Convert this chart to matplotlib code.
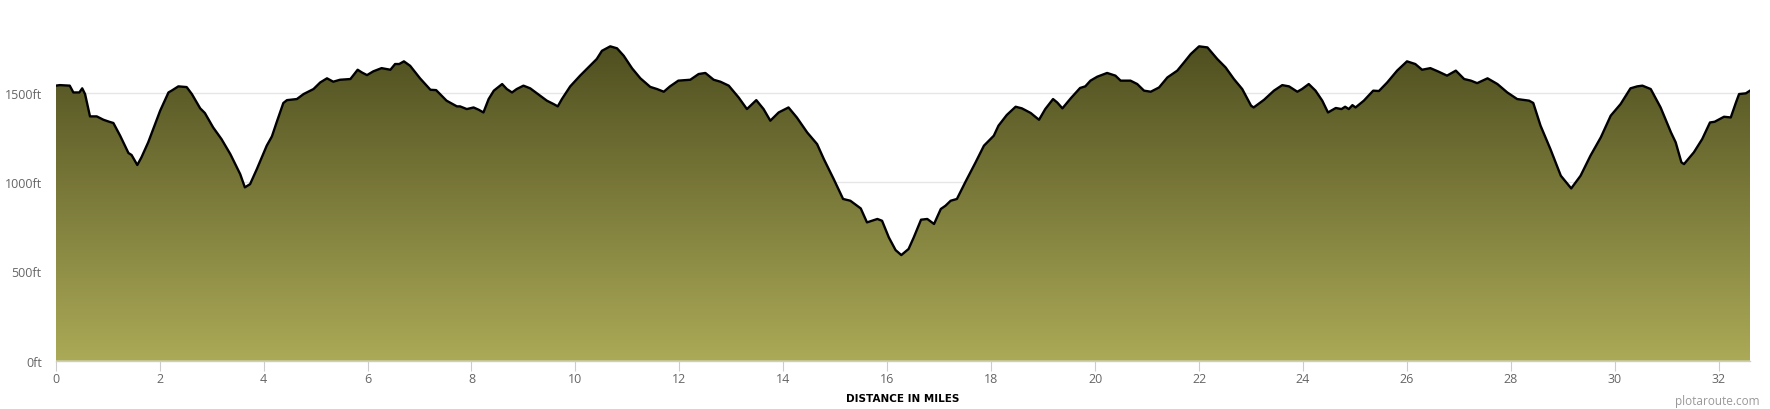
import matplotlib
matplotlib.use("Agg")
import matplotlib.pyplot as plt
import numpy as np
from matplotlib.colors import LinearSegmentedColormap
from matplotlib.ticker import FuncFormatter

# elevation profile (miles, feet)
distance_mi = [
    0.00, 0.08, 0.27, 0.34, 0.455, 0.51, 0.565, 0.66, 0.79, 0.92, 1.03, 1.11,
    1.24, 1.40, 1.46, 1.57, 1.65, 1.78, 2.01, 2.17, 2.23, 2.36, 2.52, 2.62,
    2.78, 2.87, 3.03, 3.19, 3.36, 3.55, 3.64, 3.74, 3.87, 4.06, 4.16, 4.25,
    4.38, 4.45, 4.64, 4.77, 4.96, 5.09, 5.22, 5.34, 5.47, 5.67, 5.81, 5.89,
    5.99, 6.11, 6.27, 6.44, 6.53, 6.61, 6.70, 6.82, 7.01, 7.21, 7.32, 7.52,
    7.72, 7.78, 7.91, 8.04, 8.14, 8.23, 8.33, 8.43, 8.59, 8.68, 8.78, 8.87,
    9.00, 9.13, 9.32, 9.45, 9.58, 9.66, 9.74, 9.90, 10.09, 10.28, 10.41, 10.51,
    10.67, 10.80, 10.93, 11.09, 11.25, 11.44, 11.57, 11.70, 11.82, 11.98, 12.21, 12.37,
    12.50, 12.66, 12.79, 12.95, 13.14, 13.30, 13.48, 13.62, 13.75, 13.91, 14.10, 14.26,
    14.46, 14.65, 14.78, 14.97, 15.15, 15.29, 15.49, 15.61, 15.81, 15.90, 16.03, 16.16,
    16.27, 16.41, 16.51, 16.65, 16.77, 16.90, 17.03, 17.12, 17.22, 17.34, 17.50, 17.70,
    17.86, 18.05, 18.14, 18.30, 18.47, 18.59, 18.76, 18.92, 19.04, 19.19, 19.27, 19.37,
    19.53, 19.71, 19.81, 19.91, 20.04, 20.23, 20.39, 20.49, 20.68, 20.81, 20.94, 21.07,
    21.23, 21.39, 21.58, 21.71, 21.84, 22.00, 22.16, 22.35, 22.51, 22.67, 22.83, 23.00,
    23.05, 23.25, 23.44, 23.60, 23.73, 23.89, 23.98, 24.11, 24.24, 24.37, 24.48, 24.63,
    24.74, 24.81, 24.88, 24.95, 25.01, 25.17, 25.35, 25.46, 25.62, 25.81, 26.00, 26.16,
    26.29, 26.45, 26.61, 26.77, 26.94, 27.10, 27.23, 27.35, 27.55, 27.74, 27.93, 28.12,
    28.35, 28.43, 28.57, 28.76, 28.86, 28.96, 29.16, 29.34, 29.53, 29.73, 29.92, 30.11,
    30.30, 30.43, 30.53, 30.69, 30.88, 31.08, 31.17, 31.28, 31.33, 31.52, 31.68, 31.83,
    31.92, 32.10, 32.23, 32.33, 32.39, 32.52, 32.60,
]
elevation_ft = [
    1539, 1542, 1539, 1501, 1501, 1524, 1492, 1367, 1367, 1348, 1337, 1330,
    1259, 1162, 1151, 1095, 1138, 1222, 1399, 1501, 1511, 1535, 1531, 1492,
    1412, 1386, 1305, 1240, 1156, 1044, 970, 988, 1072, 1203, 1255, 1333,
    1442, 1458, 1464, 1492, 1520, 1557, 1580, 1561, 1572, 1576, 1628, 1613,
    1598, 1619, 1637, 1628, 1660, 1660, 1675, 1650, 1580, 1516, 1514, 1455,
    1423, 1423, 1408, 1417, 1404, 1389, 1464, 1511, 1548, 1520, 1501, 1520,
    1539, 1524, 1483, 1455, 1436, 1423, 1464, 1535, 1595, 1650, 1688, 1734,
    1759, 1748, 1706, 1636, 1580, 1532, 1520, 1505, 1535, 1567, 1572, 1604,
    1610, 1572, 1561, 1539, 1473, 1408, 1458, 1408, 1343, 1389, 1417, 1361,
    1277, 1212, 1128, 1016, 905, 895, 852, 774, 793, 783, 690, 619,
    591, 625, 690, 789, 793, 765, 849, 867, 895, 905, 998, 1110,
    1203, 1259, 1315, 1375, 1421, 1412, 1386, 1348, 1408, 1464, 1445, 1412,
    1468, 1526, 1535, 1567, 1589, 1610, 1595, 1567, 1567, 1548, 1511, 1505,
    1529, 1585, 1623, 1669, 1716, 1759, 1753, 1688, 1641, 1576, 1520, 1427,
    1417, 1460, 1511, 1542, 1535, 1505, 1520, 1548, 1511, 1455, 1389, 1414,
    1408, 1421, 1408, 1430, 1417, 1455, 1511, 1509, 1557, 1623, 1675, 1660,
    1628, 1637, 1617, 1595, 1623, 1576, 1567, 1553, 1580, 1548, 1501, 1464,
    1455, 1442, 1315, 1184, 1110, 1035, 964, 1035, 1147, 1250, 1371, 1436,
    1524, 1535, 1539, 1520, 1417, 1277, 1222, 1110, 1100, 1166, 1240, 1333,
    1337, 1365, 1361, 1445, 1492, 1496, 1511,
]

x_ticks = list(range(0, 34, 2))
y_ticks = [0, 500, 1000, 1500]

X_MAX = 32.6
Y_MAX = 1856
TOP_COLOR = "#4a4a1d"
BOTTOM_COLOR = "#abaa57"
TICK_COLOR = "#666666"


def main():
    fig = plt.figure(figsize=(17.7, 4.1), dpi=100)
    ax = fig.add_axes([55.7 / 1770, 48.3 / 410, (1750 - 55.7) / 1770, 331.7 / 410])

    # gradient fill clipped to the area under the profile
    area = ax.fill_between(distance_mi, elevation_ft, 0, color="none", lw=0)
    cmap = LinearSegmentedColormap.from_list("olive", [BOTTOM_COLOR, TOP_COLOR])
    gradient = np.linspace(0, 1, 256).reshape(-1, 1)
    img = ax.imshow(gradient, extent=[0, X_MAX, 0, Y_MAX], origin="lower",
                    aspect="auto", cmap=cmap, zorder=1)
    img.set_clip_path(area.get_paths()[0], transform=ax.transData)

    ax.plot(distance_mi, elevation_ft, color="black", lw=1.7, zorder=2,
            solid_joinstyle="round")

    ax.set_xlim(0, X_MAX)
    ax.set_ylim(0, Y_MAX)

    ax.set_xticks(x_ticks)
    ax.set_yticks(y_ticks)
    ax.yaxis.set_major_formatter(FuncFormatter(lambda v, _: f"{int(v)}ft"))
    ax.set_axisbelow(True)
    ax.yaxis.grid(True, color="#e6e6e6", lw=1)

    for side in ["top", "right", "left"]:
        ax.spines[side].set_visible(False)
    ax.spines["bottom"].set_color("#cccccc")
    ax.spines["bottom"].set_linewidth(1)
    ax.spines["bottom"].set_zorder(3)

    ax.tick_params(axis="x", length=7, width=0.8, color="#cccccc", pad=1,
                   labelsize=9, labelcolor=TICK_COLOR)
    ax.tick_params(axis="y", length=0, pad=10, labelsize=9, labelcolor=TICK_COLOR)
    for lbl in ax.get_xticklabels() + ax.get_yticklabels():
        lbl.set_family("Open Sans")

    ax.set_xlabel("DISTANCE IN MILES", fontsize=7.5, fontweight="bold",
                  color="black", labelpad=6)

    fig.text(1760 / 1770, 1 - 402 / 410, "plotaroute.com", ha="right", va="center",
             fontsize=8.5, color="#999999", family="Open Sans")

    fig.savefig("out.png", dpi=100)


if __name__ == "__main__":
    main()
